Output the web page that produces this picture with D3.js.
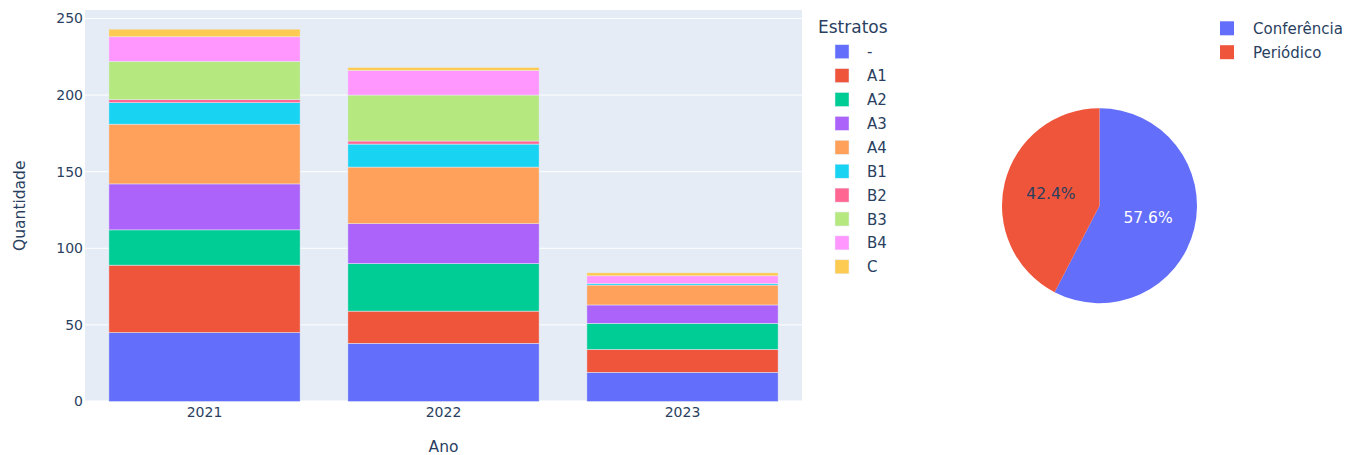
<!DOCTYPE html>
<html>
<head>
<meta charset="utf-8">
<script src="https://cdn.jsdelivr.net/npm/d3@7"></script>
<style>
  body { margin: 0; background: #fff; }
  text { font-family: "DejaVu Sans", Verdana, sans-serif; fill: #2a3f5f; }
</style>
</head>
<body>
<svg id="chart" width="1354" height="455"></svg>
<script>
// data
const anos = ["2021", "2022", "2023"];
const estratos = ["-", "A1", "A2", "A3", "A4", "B1", "B2", "B3", "B4", "C"];
const valores2021 = [45, 44, 23, 30, 39, 14, 2, 25, 16, 5];
const valores2022 = [38, 21, 31, 26, 37, 15, 2, 30, 16, 2];
const valores2023 = [19, 15, 17, 12, 13, 1, 0, 0, 5, 2];
const yTicks = [0, 50, 100, 150, 200, 250];

const tipos = ["Conferência", "Periódico"];
const quantidadesTipo = [314, 231];

const cores = ["#636efa", "#EF553B", "#00cc96", "#ab63fa", "#FFA15A",
               "#19d3f3", "#FF6692", "#B6E880", "#FF97FF", "#FECB52"];

let svg = d3.select("#chart");

let plotLeft = 85, plotRight = 802, plotTop = 10, plotBottom = 401.5;

// table for the stack
let porAno = [valores2021, valores2022, valores2023];
let tabela = anos.map((ano, i) => {
    let row = { ano: ano };
    estratos.forEach((e, j) => { row[e] = porAno[i][j]; });
    return row;
});
let series = d3.stack().keys(estratos)(tabela);

let xScale = d3.scaleBand()
               .domain(anos)
               .range([plotLeft, plotRight])
               .paddingInner(0.2)
               .paddingOuter(0.1);
let yScale = d3.scaleLinear()
               .domain([0, 255.5])
               .range([plotBottom, plotTop]);
let color = d3.scaleOrdinal().domain(estratos).range(cores);

// plot background
svg.append("rect")
   .attr("x", plotLeft).attr("y", plotTop)
   .attr("width", plotRight - plotLeft).attr("height", plotBottom - plotTop)
   .attr("fill", "#E5ECF6");

// grid lines
svg.append("g")
   .selectAll("line")
   .data(yTicks)
   .enter()
   .append("line")
   .attr("x1", plotLeft).attr("x2", plotRight)
   .attr("y1", d => yScale(d)).attr("y2", d => yScale(d))
   .attr("stroke", "#fff")
   .attr("stroke-width", d => d === 0 ? 2 : 1);

// bars
svg.append("g")
   .selectAll("g")
   .data(series)
   .enter()
   .append("g")
   .attr("fill", d => color(d.key))
   .selectAll("rect")
   .data(d => d)
   .enter()
   .append("rect")
   .attr("x", d => xScale(d.data.ano))
   .attr("width", xScale.bandwidth())
   .attr("y", d => yScale(d[1]))
   .attr("height", d => yScale(d[0]) - yScale(d[1]))
   .attr("stroke", "#E5ECF6")
   .attr("stroke-width", 0.5);

// axes
let yAxis = d3.axisLeft(yScale).tickValues(yTicks).tickSize(0).tickPadding(2);
let gy = svg.append("g")
   .attr("transform", "translate(" + plotLeft + ",0)")
   .call(yAxis);
gy.select(".domain").remove();
gy.selectAll("text").style("font-size", "14px").attr("fill", "#2a3f5f");

let xAxis = d3.axisBottom(xScale).tickSize(0).tickPadding(6);
let gx = svg.append("g")
   .attr("transform", "translate(0," + plotBottom + ")")
   .call(xAxis);
gx.select(".domain").remove();
gx.selectAll("text").style("font-size", "14px").attr("fill", "#2a3f5f");

svg.append("text")
   .attr("x", (plotLeft + plotRight) / 2).attr("y", 452)
   .attr("text-anchor", "middle")
   .style("font-size", "15.5px")
   .text("Ano");

svg.append("text")
   .attr("transform", "translate(25," + ((plotTop + plotBottom) / 2) + ") rotate(-90)")
   .attr("text-anchor", "middle")
   .style("font-size", "15.5px")
   .text("Quantidade");

// legend of the bars
svg.append("text")
   .attr("x", 818).attr("y", 33)
   .style("font-size", "17px")
   .text("Estratos");

let leg = svg.append("g")
   .selectAll("g")
   .data(estratos)
   .enter()
   .append("g")
   .attr("transform", (d, i) => "translate(0," + (51.7 + i * 23.9) + ")");
leg.append("rect")
   .attr("x", 835).attr("y", -7)
   .attr("width", 14).attr("height", 14)
   .attr("fill", d => color(d))
   .attr("stroke", "#E5ECF6").attr("stroke-width", 0.5);
leg.append("text")
   .attr("x", 867).attr("y", 5.5)
   .style("font-size", "15px")
   .text(d => d);

// pie
let cx = 1099.5, cy = 205.7, r = 97.5;
let corPizza = d3.scaleOrdinal().domain(tipos).range(["#636efa", "#EF553B"]);
let pie = d3.pie().sort(null).value(d => d)(quantidadesTipo);
let arc = d3.arc().innerRadius(0).outerRadius(r);
let labelArc = d3.arc().innerRadius(0).outerRadius(100);
let total = d3.sum(quantidadesTipo);

let gp = svg.append("g").attr("transform", "translate(" + cx + "," + cy + ")");
gp.selectAll("path")
  .data(pie)
  .enter()
  .append("path")
  .attr("d", arc)
  .attr("fill", (d, i) => corPizza(tipos[i]));
gp.selectAll("text")
  .data(pie)
  .enter()
  .append("text")
  .attr("transform", d => "translate(" + labelArc.centroid(d) + ")")
  .attr("text-anchor", "middle")
  .attr("dy", "0.35em")
  .style("font-size", "15.5px")
  .style("fill", (d, i) => i === 0 ? "#fff" : "#2a3f5f")
  .text(d => (d.value / total * 100).toFixed(1) + "%");

// legend of the pie
let legP = svg.append("g")
   .selectAll("g")
   .data(tipos)
   .enter()
   .append("g")
   .attr("transform", (d, i) => "translate(0," + (28.3 + i * 23.9) + ")");
legP.append("rect")
   .attr("x", 1220).attr("y", -7)
   .attr("width", 14).attr("height", 14)
   .attr("fill", d => corPizza(d));
legP.append("text")
   .attr("x", 1253).attr("y", 5.5)
   .style("font-size", "15px")
   .text(d => d);
</script>
</body>
</html>
